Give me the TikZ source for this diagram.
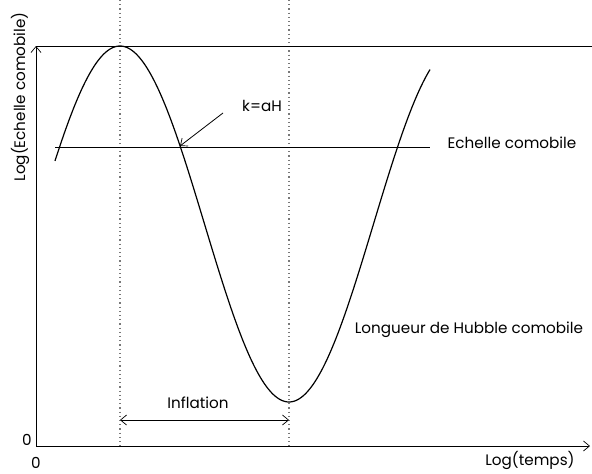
\documentclass[tikz,border=0pt]{standalone}
\usepackage{fontspec}
\setmainfont{Poppins}
\usetikzlibrary{arrows.meta}
\definecolor{guidegray}{RGB}{120,120,120}
\tikzset{
  lbl/.style={inner sep=0pt, font=\fontsize{15.2}{17}\selectfont},
  axis/.style={line width=0.8pt},
  guide/.style={guidegray, line width=1.2pt, dash pattern=on 1.2pt off 3pt},
  curve/.style={line width=1.2pt},
  barb/.style={-{Straight Barb[length=6pt,width=10pt,line width=0.7pt]}},
  dbarb/.style={{Straight Barb[length=6pt,width=10pt,line width=0.7pt]}-{Straight Barb[length=6pt,width=10pt,line width=0.7pt]}}
}
\begin{document}
\begin{tikzpicture}[x=1pt,y=-1pt]
\useasboundingbox (0,0) rectangle (592,474);
\coordinate (O) at (36,446);
\coordinate (Ytop) at (36,46);
\coordinate (Xend) at (590,446);
\coordinate (Tend) at (592,46);
\coordinate (G1t) at (120,0);
\coordinate (G1b) at (120,446);
\coordinate (G2t) at (289,0);
\coordinate (G2b) at (289,446);
\coordinate (Hl) at (55,147);
\coordinate (Hr) at (430,147);
\coordinate (Ka) at (223,113);
\coordinate (Kb) at (180,146);
\coordinate (Il) at (120,420);
\coordinate (Ir) at (289,420);
% guides
\draw[guide] (G1t) -- (G1b);
\draw[guide] (G2t) -- (G2b);
% axes
\draw[axis,barb] (O) -- (Ytop);
\draw[axis,barb] (O) -- (Xend);
\draw[axis] (Ytop) -- (Tend);
% curve
\draw[curve] plot[domain=55:430,samples=200,smooth] (\x,{224-178*cos((\x-120)/169*180)});
% horizontal line
\draw[line width=0.8pt] (Hl) -- (Hr);
% k=aH arrow
\draw[line width=0.8pt,barb] (Ka) -- (Kb);
% inflation arrow
\draw[line width=1pt,dbarb] (Il) -- (Ir);
% labels
\node[lbl] (kah) at (262,106) {k=aH};
\node[lbl] (ech) at (512,143) {Echelle comobile};
\node[lbl] (hub) at (469,330) {Longueur de Hubble comobile};
\node[lbl] (inf) at (198,403) {Inflation};
\node[lbl] (xl) at (530,460) {Log(temps)};
\node[lbl] (z1) at (27,440) {0};
\node[lbl] (z2) at (36,463) {0};
\node[lbl,rotate=90] (yl) at (20,97) {Log(Echelle comobile)};
\end{tikzpicture}
\end{document}
